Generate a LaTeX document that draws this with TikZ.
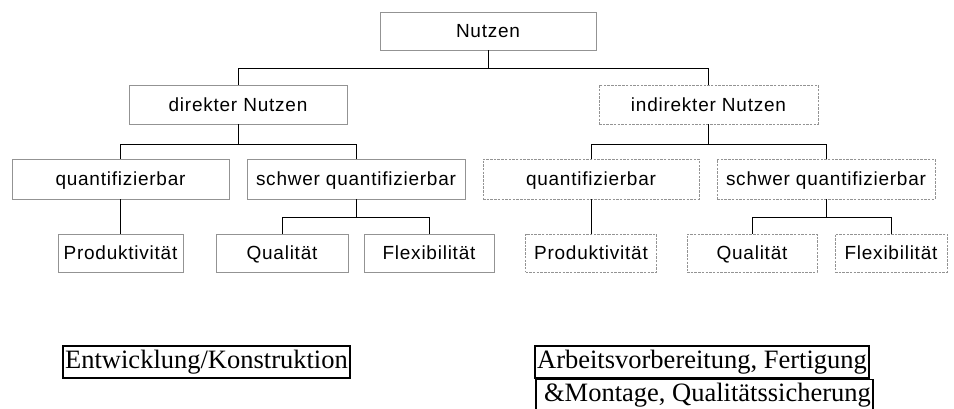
\documentclass[tikz,border=0pt]{standalone}
\usepackage{fontspec}
\setmainfont{Liberation Serif}
\newfontfamily\boxfont[LetterSpace=4]{Liberation Sans}
\tikzset{
  kasten/.style={draw=gray!85, line width=0.8pt, minimum height=38pt, inner sep=1pt,
    text height=13.6pt, text depth=0pt, font=\boxfont\fontsize{19}{22}\selectfont},
  kastend/.style={kasten, dash pattern=on 2.5pt off 1.2pt},
  bereich/.style={draw=black, line width=1.8pt, minimum height=32pt, inner sep=1pt,
    font=\fontsize{26.5}{30}\selectfont},
  ast/.style={draw=black, line width=1pt}
}
\begin{document}
\begin{tikzpicture}[x=1pt,y=-1pt]
\useasboundingbox (0,0) rectangle (954,409);
\node[kasten, minimum width=216pt] (N) at (488,31){Nutzen};
\node[kasten, minimum width=218pt, minimum height=39pt] (D) at (238,104.5){direkter Nutzen};
\node[kastend, minimum width=219pt, minimum height=39pt] (I) at (708.5,104.5){indirekter Nutzen};

\node[kasten, minimum width=217pt, minimum height=40pt] (Dq) at (120.5,179){quantifizierbar};
\node[kasten, minimum width=218pt, minimum height=40pt] (Ds) at (356,179){schwer quantifizierbar};
\node[kastend, minimum width=216pt, minimum height=40pt] (Iq) at (591,179){quantifizierbar};
\node[kastend, minimum width=218pt, minimum height=40pt] (Is) at (826,179){schwer quantifizierbar};

\node[kasten, minimum width=125pt] (Dp) at (120.5,253){Produktivität};
\node[kasten, minimum width=132pt] (Dql) at (282,253){Qualität};
\node[kasten, minimum width=130pt] (Df) at (429,253){Flexibilität};
\node[kastend, minimum width=131pt] (Ip) at (591,253){Produktivität};
\node[kastend, minimum width=130pt] (Iql) at (752,253){Qualität};
\node[kastend, minimum width=112pt] (If) at (891,253){Flexibilität};

\draw[ast](N.south) -- ++(0,18) -| (D.north);
\draw[ast](N.south) -- ++(0,18) -| (I.north);
\draw[ast](D.south) -- ++(0,20) -| (Dq.north);
\draw[ast](D.south) -- ++(0,20) -| (Ds.north);
\draw[ast](I.south) -- ++(0,20) -| (Iq.north);
\draw[ast](I.south) -- ++(0,20) -| (Is.north);
\draw[ast](Dq.south) -- (Dp.north);
\draw[ast](Iq.south) -- (Ip.north);
\draw[ast](Ds.south) -- ++(0,18) -| (Dql.north);
\draw[ast](Ds.south) -- ++(0,18) -| (Df.north);
\draw[ast](Is.south) -- ++(0,18) -| (Iql.north);
\draw[ast](Is.south) -- ++(0,18) -| (If.north);

\node[bereich, minimum width=287pt] (E) at (206.5,362){Entwicklung/Konstruktion};
\node[bereich, minimum width=334pt] (A1) at (702,362){Arbeitsvorbereitung, Fertigung};
\node[bereich, minimum width=337pt] (A2) at (704.5,395.5){\hspace{6pt}\&Montage, Qualitätssicherung};
\end{tikzpicture}
\end{document}
